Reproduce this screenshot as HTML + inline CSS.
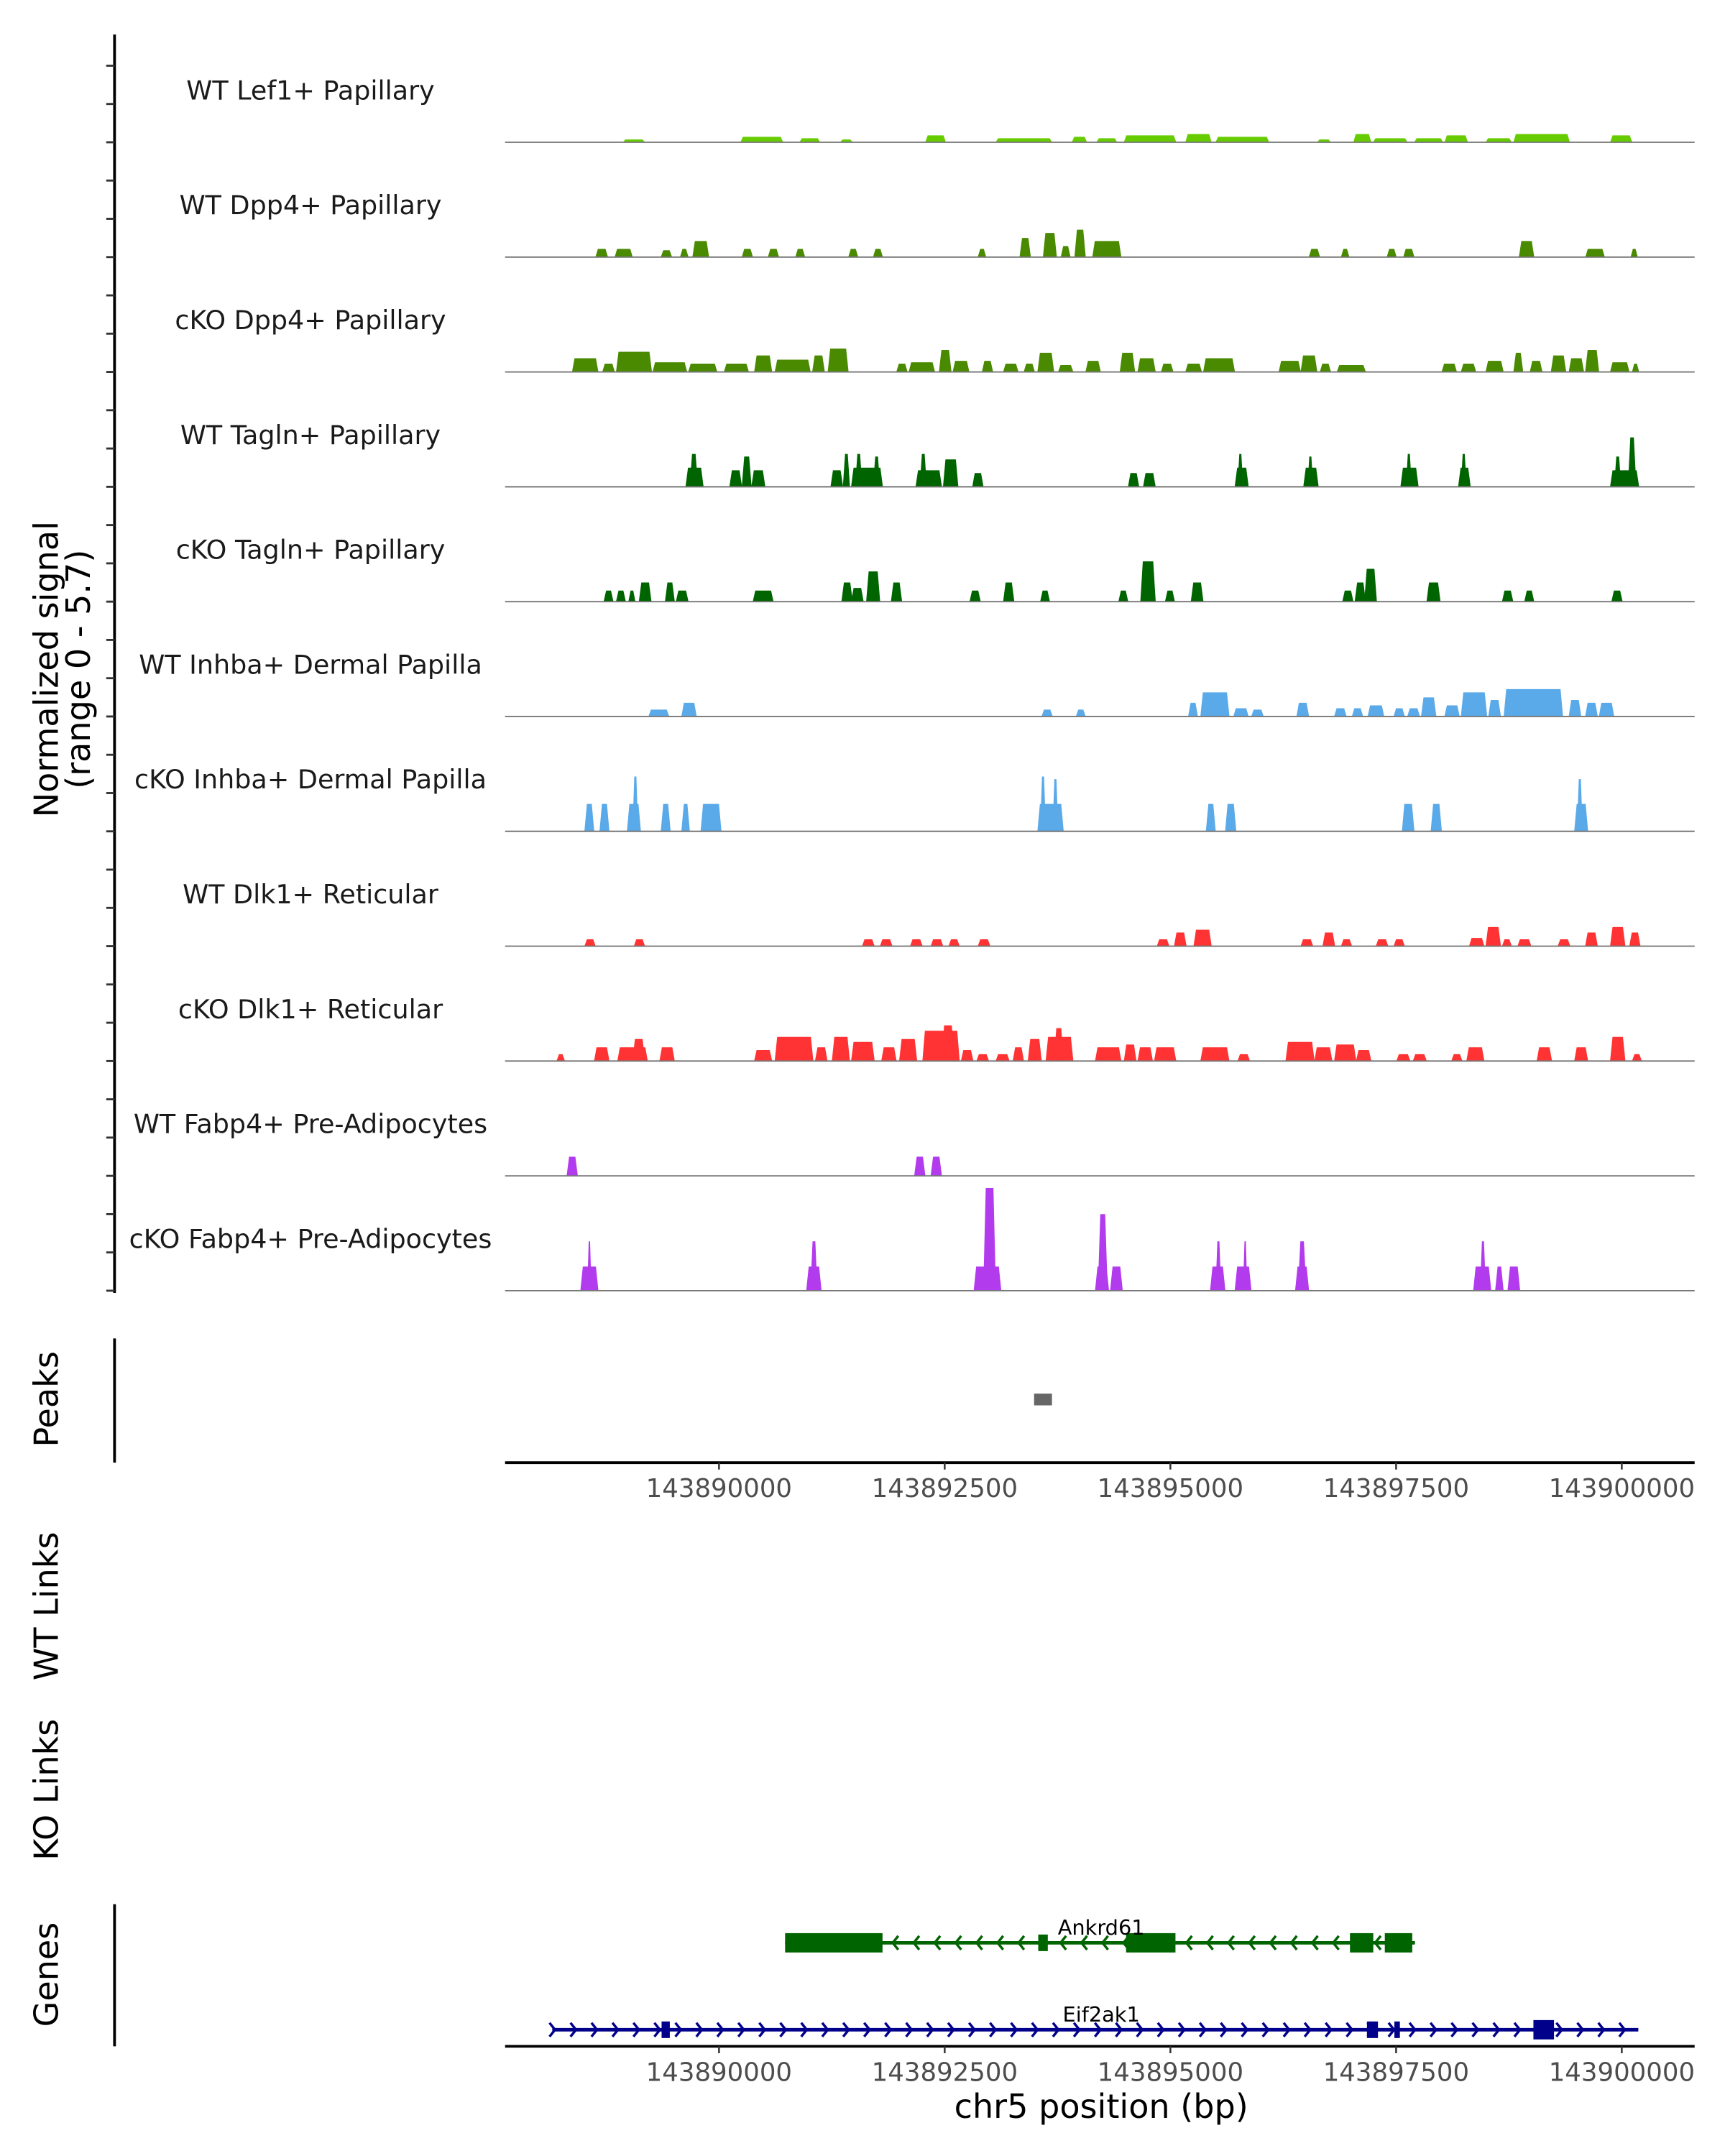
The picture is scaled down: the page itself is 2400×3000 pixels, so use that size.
<!DOCTYPE html>
<html><head><meta charset="utf-8"><style>
html,body{margin:0;padding:0;background:#fff;}
svg{display:block;font-family:"DejaVu Sans","Liberation Sans",sans-serif;}
</style></head><body>
<svg id="chart" width="2400" height="3000" viewBox="0 0 1250 1562.5" xmlns="http://www.w3.org/2000/svg"></svg>
<script>
const regionStart = 143887661, regionEnd = 143900807;
const xTicks = [143890000, 143892500, 143895000, 143897500, 143900000];
const xTickLabels = ["143890000","143892500","143895000","143897500","143900000"];
const yMax = 5.7;
const trackNames = ["WT Lef1+ Papillary","WT Dpp4+ Papillary","cKO Dpp4+ Papillary","WT Tagln+ Papillary","cKO Tagln+ Papillary","WT Inhba+ Dermal Papilla","cKO Inhba+ Dermal Papilla","WT Dlk1+ Reticular","cKO Dlk1+ Reticular","WT Fabp4+ Pre-Adipocytes","cKO Fabp4+ Pre-Adipocytes"];
const trackColors = ["#66cc00","#4a8a00","#4a8a00","#006400","#006400","#5aaaea","#5aaaea","#ff3333","#ff3333","#b33bee","#b33bee"];
const lef1WT = [[143888990,143889218,0.14],[143890292,143890748,0.27],[143890945,143891158,0.2],[143891396,143891518,0.14],[143892339,143892551,0.34],[143893119,143893727,0.2],[143893962,143894114,0.27],[143894235,143894448,0.2],[143894539,143895102,0.34],[143895220,143895494,0.41],[143895555,143896132,0.27],[143896679,143896816,0.14],[143897081,143897263,0.41],[143897299,143897664,0.2],[143897755,143898059,0.2],[143898090,143898333,0.34],[143898546,143898819,0.2],[143898854,143899462,0.41],[143899925,143900153,0.34]];
const dpp4WT = [[143888686,143888807,0.41],[143888899,143889081,0.41],[143889410,143889517,0.34],[143889623,143889699,0.41],[143889760,143889927,0.8],[143890307,143890413,0.41],[143890596,143890702,0.41],[143890900,143890991,0.41],[143891487,143891579,0.41],[143891761,143891852,0.41],[143892921,143892997,0.41],[143893384,143893491,0.95],[143893643,143893779,1.2],[143893840,143893931,0.55],[143893992,143894099,1.36],[143894190,143894494,0.8],[143896588,143896695,0.41],[143896944,143897020,0.41],[143897451,143897543,0.41],[143897634,143897740,0.41],[143898915,143899067,0.8],[143899651,143899849,0.41],[143900153,143900214,0.41]];
const dpp4KO = [[143888427,143888701,0.68],[143888762,143888883,0.41],[143888914,143889294,1.0],[143889319,143889684,0.48],[143889714,143890018,0.41],[143890109,143890368,0.41],[143890444,143890626,0.82],[143890672,143891052,0.61],[143891087,143891209,0.82],[143891259,143891472,1.16],[143892019,143892126,0.41],[143892156,143892430,0.48],[143892491,143892612,1.09],[143892643,143892810,0.55],[143892967,143893073,0.55],[143893202,143893354,0.41],[143893430,143893536,0.41],[143893582,143893749,0.95],[143893810,143893962,0.34],[143894114,143894266,0.55],[143894494,143894646,0.95],[143894691,143894874,0.68],[143894950,143895071,0.41],[143895220,143895387,0.41],[143895418,143895752,0.68],[143896254,143896482,0.55],[143896497,143896664,0.82],[143896710,143896816,0.41],[143896898,143897202,0.34],[143898059,143898211,0.41],[143898272,143898424,0.41],[143898546,143898728,0.55],[143898854,143898945,0.95],[143899036,143899158,0.55],[143899269,143899421,0.82],[143899467,143899619,0.68],[143899649,143899786,1.09],[143899925,143900122,0.48],[143900168,143900229,0.41]];
const taglnWT = [[143889684,143889866,0.95],[143889729,143889805,1.63],[143890170,143890292,0.82],[143890307,143890398,1.5],[143890413,143890550,0.82],[143891290,143891411,0.82],[143891427,143891487,1.63],[143891518,143891852,0.95],[143891563,143891624,1.63],[143891761,143891822,1.5],[143892232,143892506,0.82],[143892278,143892339,1.63],[143892536,143892688,1.36],[143892860,143892967,0.68],[143894585,143894691,0.68],[143894752,143894874,0.68],[143895767,143895904,0.95],[143895798,143895843,1.63],[143896527,143896679,0.95],[143896573,143896619,1.5],[143897603,143897786,0.95],[143897664,143897710,1.63],[143898242,143898363,0.95],[143898272,143898318,1.63],[143899925,143900229,0.82],[143899970,143900031,1.5],[143900122,143900198,2.45]];
const taglnKO = [[143888777,143888868,0.55],[143888914,143889005,0.55],[143889051,143889111,0.55],[143889167,143889289,0.95],[143889456,143889547,0.95],[143889577,143889699,0.55],[143890429,143890641,0.55],[143891411,143891518,0.95],[143891518,143891639,0.68],[143891685,143891822,1.5],[143891959,143892065,0.95],[143892830,143892936,0.55],[143893202,143893308,0.95],[143893612,143893703,0.55],[143894479,143894570,0.55],[143894722,143894874,2.0],[143894995,143895087,0.55],[143895281,143895403,0.95],[143896959,143897065,0.55],[143897096,143897202,0.95],[143897202,143897324,1.63],[143897892,143898029,0.95],[143898728,143898835,0.55],[143898975,143899067,0.55],[143899940,143900046,0.55]];
const inhbaWT = [[143889273,143889486,0.34],[143889638,143889790,0.68],[143893627,143893734,0.34],[143894007,143894099,0.34],[143895251,143895342,0.68],[143895387,143895691,1.2],[143895752,143895904,0.41],[143895950,143896071,0.34],[143896451,143896573,0.68],[143896868,143896989,0.41],[143897065,143897172,0.41],[143897239,143897406,0.55],[143897527,143897634,0.41],[143897679,143897801,0.41],[143897831,143897983,0.95],[143898090,143898242,0.55],[143898272,143898546,1.2],[143898576,143898698,0.82],[143898747,143899386,1.36],[143899467,143899588,0.82],[143899649,143899771,0.68],[143899801,143899953,0.68]];
const inhbaKO = [[143888564,143888655,1.36],[143888731,143888823,1.36],[143889035,143889172,1.36],[143889096,143889142,2.72],[143889410,143889501,1.36],[143889638,143889714,1.36],[143889851,143890064,1.36],[143893582,143893855,1.36],[143893612,143893658,2.72],[143893749,143893795,2.59],[143895448,143895539,1.36],[143895661,143895767,1.36],[143897619,143897740,1.36],[143897938,143898044,1.36],[143899528,143899664,1.36],[143899558,143899604,2.59]];
const dlk1WT = [[143888564,143888671,0.34],[143889111,143889218,0.34],[143891639,143891761,0.34],[143891837,143891959,0.34],[143892171,143892293,0.34],[143892399,143892521,0.34],[143892597,143892703,0.34],[143892921,143893043,0.34],[143894904,143895026,0.34],[143895095,143895216,0.68],[143895311,143895494,0.82],[143896497,143896619,0.34],[143896740,143896862,0.68],[143896944,143897050,0.34],[143897330,143897451,0.34],[143897527,143897634,0.34],[143898363,143898515,0.41],[143898546,143898698,0.95],[143898728,143898819,0.34],[143898899,143899036,0.34],[143899345,143899467,0.34],[143899649,143899771,0.68],[143899925,143900077,0.95],[143900138,143900244,0.68]];
const dlk1KO = [[143888255,143888331,0.34],[143888671,143888823,0.68],[143888929,143889248,0.68],[143889096,143889218,1.09],[143889395,143889547,0.68],[143890444,143890626,0.55],[143890672,143891082,1.2],[143891118,143891239,0.68],[143891305,143891487,1.2],[143891518,143891761,0.95],[143891852,143892004,0.68],[143892050,143892232,1.09],[143892308,143892703,1.5],[143892521,143892643,1.77],[143892734,143892855,0.55],[143892906,143893028,0.34],[143893119,143893256,0.34],[143893308,143893415,0.68],[143893475,143893612,1.09],[143893673,143893962,1.2],[143893764,143893855,1.63],[143894220,143894494,0.68],[143894539,143894661,0.82],[143894691,143894843,0.68],[143894874,143895102,0.68],[143895387,143895691,0.68],[143895798,143895919,0.34],[143896330,143896634,0.95],[143896649,143896831,0.68],[143896868,143897096,0.82],[143897111,143897263,0.55],[143897558,143897695,0.34],[143897740,143897877,0.34],[143898166,143898272,0.34],[143898333,143898515,0.68],[143899112,143899264,0.68],[143899528,143899664,0.68],[143899925,143900077,1.2],[143900168,143900259,0.34]];
const fabp4WT = [[143888367,143888473,0.95],[143892217,143892323,0.95],[143892399,143892506,0.95]];
const fabp4KO = [[143888519,143888701,1.2],[143888595,143888625,2.45],[143891021,143891173,1.2],[143891067,143891128,2.45],[143892876,143893164,1.2],[143892982,143893104,5.1],[143894220,143894357,1.2],[143894251,143894342,3.8],[143894387,143894509,1.2],[143895494,143895646,1.2],[143895555,143895600,2.45],[143895767,143895935,1.2],[143895859,143895889,2.45],[143896436,143896573,1.2],[143896467,143896543,2.45],[143898409,143898591,1.2],[143898485,143898531,2.45],[143898652,143898728,1.2],[143898789,143898911,1.2]];
const trackData = [lef1WT,dpp4WT,dpp4KO,taglnWT,taglnKO,inhbaWT,inhbaKO,dlk1WT,dlk1KO,fabp4WT,fabp4KO];
const peakRegions = [[143893536,143893734]];
const geneNames = ["Ankrd61","Eif2ak1"];
const geneStrands = [-1, 1];
const geneSpans = [[143890778,143897755],[143888199,143900229]];
const ankrd61Exons = [[143890778,143891857],[143893582,143893688],[143894555,143895102],[143897035,143897293],[143897421,143897725]];
const eif2ak1Exons = [[143889410,143889501],[143897223,143897345],[143897527,143897588],[143899067,143899295]];
const geneExons = [ankrd61Exons, eif2ak1Exons];

const NS='http://www.w3.org/2000/svg';
const svg=document.getElementById('chart');
const X0=368,X1=1228,TRACK_H=83.23,BASE0=103.1;
const PX_SHIFT=-3;
function xs(bp){return X0+(bp-regionStart)/(regionEnd-regionStart)*(X1-X0);}
function ys(v,base){return base-v/yMax*TRACK_H;}
function mk(tag,attrs,parent){const e=document.createElementNS(NS,tag);for(const k in attrs)e.setAttribute(k,attrs[k]);(parent||svg).appendChild(e);return e;}

let ax=mk('line',{x1:83,y1:25,x2:83,y2:937,stroke:'#000','stroke-width':2});


for(let i=0;i<trackNames.length;i++){
  const base=BASE0+i*TRACK_H;
  for(let k=0;k<3;k++){
    const t=mk('line',{x1:77,x2:83,y1:base-k*TRACK_H/3,y2:base-k*TRACK_H/3,stroke:'#333','stroke-width':1.5});
    
    
  }
  const g=mk('g',{});
  
  
  const lab=mk('text',{x:225,y:base-31,'text-anchor':'middle','font-size':19,fill:'#1a1a1a'},g);
  lab.textContent=trackNames[i];
  
  
  trackData[i].forEach(p=>{
    const xa=xs(p[0])+PX_SHIFT,xb=xs(p[1])+PX_SHIFT,yt=ys(p[2],base);
    const taper=Math.min(1.2,(xb-xa)/4);
    const poly=mk('polygon',{points:`${xa-0.6},${base} ${xa+taper},${yt} ${xb-taper},${yt} ${xb+0.6},${base}`,fill:trackColors[i]},g);
    
    
  });
  const bl=mk('line',{x1:366,x2:X1,y1:base,y2:base,stroke:'#777','stroke-width':1},g);
  
  
}
function rotText(txt,x,y,size,name){
  const t=mk('text',{x:x,y:y,'text-anchor':'middle','font-size':size,fill:'#000',transform:`rotate(-90 ${x} ${y})`});
  t.textContent=txt;
  
  
  return t;
}
rotText('Normalized signal',42,485,24,'y-axis-title');
rotText('(range 0 - 5.7)',65,485,24,'y-axis-subtitle');
rotText('Peaks',42,1014,24,'peaks-title');
rotText('WT Links',42,1164,24,'wt-links-title');
rotText('KO Links',42,1297,24,'ko-links-title');
rotText('Genes',42,1431,24,'genes-title');

let pa=mk('line',{x1:83,y1:970,x2:83,y2:1060,stroke:'#000','stroke-width':2});


peakRegions.forEach(p=>{
  const r=mk('rect',{x:xs(p[0])+PX_SHIFT,y:1010,width:xs(p[1])-xs(p[0]),height:8.5,fill:'#666'});
  
  
});
function xAxis(y,name){
  const g=mk('g',{});
  
  
  mk('line',{x1:366,x2:X1,y1:y,y2:y,stroke:'#000','stroke-width':2},g);
  xTicks.forEach((t,i)=>{
    mk('line',{x1:xs(t),x2:xs(t),y1:y,y2:y+5,stroke:'#333','stroke-width':1.3},g);
    const l=mk('text',{x:xs(t),y:y+25,'text-anchor':'middle','font-size':18.5,fill:'#4d4d4d'},g);
    l.textContent=xTickLabels[i];
    
    
  });
}
xAxis(1060,'peaks-x-axis');

let ga=mk('line',{x1:83,y1:1380,x2:83,y2:1483,stroke:'#000','stroke-width':2});


const geneColors=['#006400','#00008b'], geneY=[1408,1471];
geneNames.forEach((n,i)=>{
  const g=mk('g',{});
  
  
  const y=geneY[i],c=geneColors[i];
  const a=xs(geneSpans[i][0])+PX_SHIFT,b=xs(geneSpans[i][1])+PX_SHIFT;
  mk('line',{x1:a,x2:b,y1:y,y2:y,stroke:c,'stroke-width':2.5},g);
  for(let x=a+2;x<=b;x+=15.2){
    const d=geneStrands[i]*4;
    mk('polyline',{points:`${x-d},${y-5} ${x},${y} ${x-d},${y+5}`,fill:'none',stroke:c,'stroke-width':1.8},g);
  }
  geneExons[i].forEach(e=>{
    const h=(xs(e[1])-xs(e[0])>10)?14:12;
    const r=mk('rect',{x:xs(e[0])+PX_SHIFT,y:y-h/2,width:Math.max(3,xs(e[1])-xs(e[0])),height:h,fill:c},g);
    
    
  });
  const t=mk('text',{x:798,y:y-6,'text-anchor':'middle','font-size':15,fill:'#000'},g);
  t.textContent=n;
  
  
});
xAxis(1483,'genes-x-axis');
const xt=mk('text',{x:798,y:1535,'text-anchor':'middle','font-size':24,fill:'#000'});
xt.textContent='chr5 position (bp)';


</script>
</body></html>
